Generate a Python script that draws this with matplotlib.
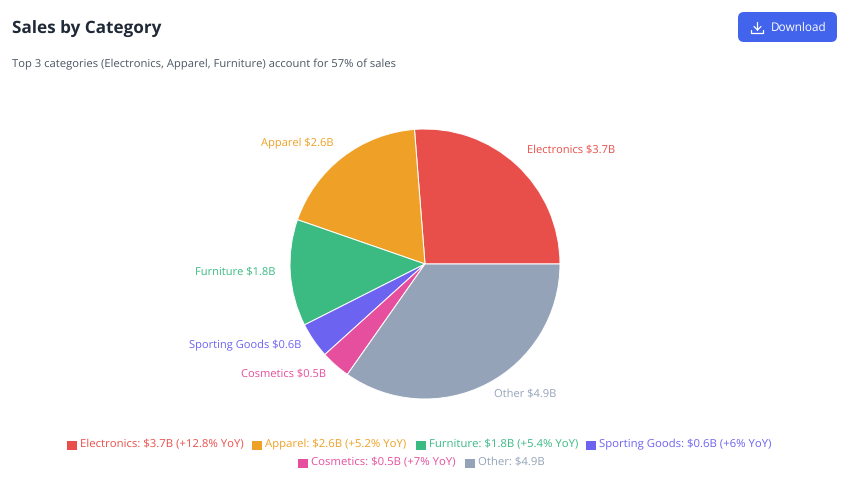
import matplotlib
matplotlib.use("Agg")
import matplotlib.pyplot as plt
from matplotlib.patches import FancyBboxPatch, Rectangle

plt.rcParams['font.family'] = ['Open Sans', 'DejaVu Sans']
plt.rcParams['text.hinting'] = 'no_hinting'

W, H = 849, 484
categories = ["Electronics", "Apparel", "Furniture", "Sporting Goods", "Cosmetics", "Other"]
values = [3.7, 2.6, 1.8, 0.6, 0.5, 4.9]
yoy = ["+12.8%", "+5.2%", "+5.4%", "+6%", "+7%", None]
colors = ["#E94F4A", "#EEA126", "#3BBA82", "#6C63F0", "#E64F9E", "#94A3B8"]
title = "Sales by Category"
subtitle = "Top 3 categories (Electronics, Apparel, Furniture) account for 57% of sales"

fig = plt.figure(figsize=(W / 100, H / 100), dpi=100, facecolor="white")
ax = fig.add_axes([0, 0, 1, 1])

labels = [f"{c} ${v}B" for c, v in zip(categories, values)]
# The y axis is inverted so coordinates read as pixels from the top;
# clockwise in data space therefore draws anticlockwise on screen.
cx, cy = 425, 264
wedges, texts = ax.pie(
    values, labels=labels, colors=colors, startangle=0, counterclock=False,
    center=(cx, cy), radius=135, labeldistance=150 / 135, frame=True,
    wedgeprops=dict(edgecolor="white", linewidth=0.7),
    textprops=dict(fontsize=8.0),
)
for t, c in zip(texts, colors):
    t.set_color(c)
    x, y = t.get_position()
    t.set_position((x, y - 3))
    t.set_ha("left" if x > cx else "right")
ax.set_xlim(0, W)
ax.set_ylim(H, 0)
ax.set_aspect("equal")
ax.axis("off")

ax.text(12, 29, title, fontsize=12.35, fontweight="bold", color="#1F2937", va="center")
ax.text(12, 64.5, subtitle, fontsize=8.15, color="#4B5563", va="center")

# Download button
ax.add_patch(FancyBboxPatch((743, 17), 89, 20, boxstyle="round,pad=5,rounding_size=6",
                            fc="#4263EB", ec="none"))
ax.text(771, 28, "Download", fontsize=8.5, color="white", va="center")
ic = dict(color="white", lw=0.9, solid_capstyle="round", solid_joinstyle="round")
ax.plot([757.5, 757.5], [22, 30], **ic)
ax.plot([754, 757.5, 761], [26.5, 30, 26.5], **ic)
ax.plot([751.5, 751.5, 763.5, 763.5], [29.5, 33, 33, 29.5], **ic)

# Legend
legend_rows = [[0, 1, 2, 3], [4, 5]]
swatch_x = [67, 252, 416, 586, 298, 465]
row_y = [444, 462]
i = 0
for row, y in zip(legend_rows, row_y):
    for idx in row:
        x0 = swatch_x[i]
        ax.add_patch(Rectangle((x0, y - 3.5), 10, 9, fc=colors[idx], ec="none"))
        s = f"{categories[idx]}: ${values[idx]}B"
        if yoy[idx]:
            s += f" ({yoy[idx]} YoY)"
        ax.text(x0 + 13, y, s, fontsize=8.2, color=colors[idx], va="center")
        i += 1

fig.savefig("out.png", dpi=100, facecolor="white")
